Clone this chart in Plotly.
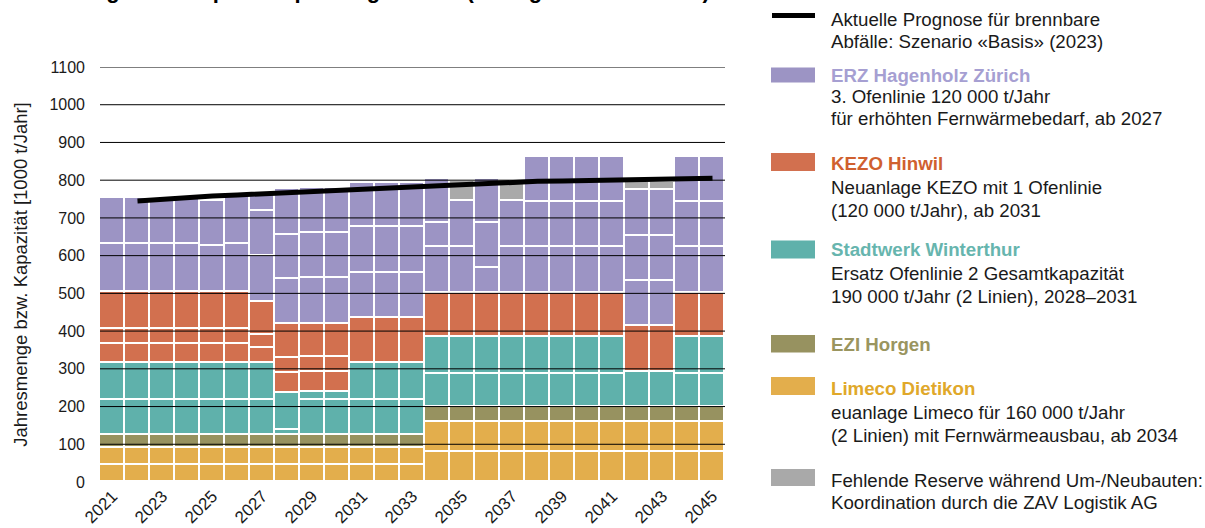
import plotly.graph_objects as go

YEARS = list(range(2021, 2046))

# Segmente je Anlage (1000 t/Jahr), von unten nach oben gestapelt
LIMECO_A = [45] * 13 + [80] * 12
LIMECO_B = [45] * 13 + [80] * 12
EZI = [35] * 13 + [38] * 12
WINTI_A = [92] * 7 + [12, 92, 92] + [92] * 3 + [87] * 8 + [94, 94] + [87, 87]
WINTI_B = [98] * 7 + [100, 22, 22] + [98] * 3 + [100] * 8 + [None, None] + [100, 100]
KEZO_A = [51] * 6 + [39, 51, 52, 52] + [119] * 3 + [115] * 8 + [122, 122] + [115, 115]
KEZO_B = [39] * 6 + [36, 40, 40, 40] + [None] * 3 + [None] * 12
KEZO_C = [99] * 6 + [88, 90, 88, 88] + [None] * 3 + [None] * 12
ERZ_A = [126, 126, 126, 126, 121, 128, 122, 119, 121, 121, 121, 121, 121,
         122, 122, 66, 122, 122, 122, 122, 122, 119, 119, 122, 122]
ERZ_B = [122, 122, 122, 122, 121, 124, 119, 119, 119, 119, 120, 120, 120,
         64, 122, 120, 122, 121, 121, 121, 121, 120, 120, 121, 121]
ERZ_C = [None] * 6 + [51, 120, 119, 119, 118, 118, 118,
                      116, None, 116, None, 119, 119, 119, 119, 122, 122, 119, 119]
RESERVE = [None] * 14 + [53, None, 53] + [None] * 4 + [20, 20, None, None]

PROGNOSE_YEARS = list(range(2022, 2046))
PROGNOSE = [745, 750, 754, 758, 761, 764, 768, 771, 774, 777, 780, 783,
            787, 790, 793, 795, 797, 798, 799, 800, 801, 802, 803, 805]

Y_TICKS = list(range(0, 1101, 100))
X_TICKS = list(range(2021, 2046, 2))

C = {
    'erz': '#9C94C4', 'kezo': '#D2704F', 'winti': '#5FB1AB',
    'ezi': '#979260', 'limeco': '#E3AE4C', 'reserve': '#A9A9A9',
}
T = {
    'erz': '#A69FD2', 'kezo': '#D0602F', 'winti': '#67B5AE',
    'ezi': '#9A955F', 'limeco': '#E0A82A',
}
FONT = 'Liberation Sans, Arial, sans-serif'

# Pixel -> Papier-Koordinaten (Plotfläche 100..725 x 67..482)
def px(x):
    return (x - 100) / 625

def py(y):
    return (482 - y) / 415


fig = go.Figure()

stack = [
    (LIMECO_A, 'limeco'), (LIMECO_B, 'limeco'), (EZI, 'ezi'),
    (WINTI_A, 'winti'), (WINTI_B, 'winti'),
    (KEZO_A, 'kezo'), (KEZO_B, 'kezo'), (KEZO_C, 'kezo'),
    (ERZ_A, 'erz'), (ERZ_B, 'erz'), (ERZ_C, 'erz'),
    (RESERVE, 'reserve'),
]
for vals, key in stack:
    fig.add_trace(go.Bar(
        x=YEARS, y=vals,
        marker=dict(color=C[key], line=dict(color='white', width=1.8)),
        showlegend=False, hoverinfo='skip',
    ))

fig.add_trace(go.Scatter(
    x=PROGNOSE_YEARS, y=PROGNOSE, mode='lines',
    line=dict(color='black', width=5),
    showlegend=False, hoverinfo='skip',
))

# Gitterlinien über den Balken
for t in Y_TICKS[1:]:
    fig.add_shape(type='line', xref='paper', x0=0, x1=1, yref='y', y0=t, y1=t,
                  line=dict(color='black', width=1), layer='above')

# ─── Legende rechts ──────────────────────────────────────────────────────────
fig.add_shape(type='line', xref='paper', yref='paper',
              x0=px(772), x1=px(815), y0=py(15.5), y1=py(15.5),
              line=dict(color='black', width=5))

swatches = [
    ('erz', 67.5, 82.5), ('kezo', 153, 171), ('winti', 240.5, 258.5),
    ('ezi', 335, 352.5), ('limeco', 377, 395), ('reserve', 469, 486),
]
for key, y0, y1 in swatches:
    fig.add_shape(type='rect', xref='paper', yref='paper',
                  x0=px(771), x1=px(815), y0=py(y0), y1=py(y1),
                  fillcolor=C[key], line=dict(width=0))

legend_lines = [
    ('Aktuelle Prognose für brennbare', 19.5, None),
    ('Abfälle: Szenario «Basis» (2023)', 41.7, None),
    ('<b>ERZ Hagenholz Zürich</b>', 75, 'erz'),
    ('3. Ofenlinie 120 000 t/Jahr', 96.7, None),
    ('für erhöhten Fernwärmebedarf, ab 2027', 118.3, None),
    ('<b>KEZO Hinwil</b>', 163.3, 'kezo'),
    ('Neuanlage KEZO mit 1 Ofenlinie', 187.3, None),
    ('(120 000 t/Jahr), ab 2031', 210.7, None),
    ('<b>Stadtwerk Winterthur</b>', 249.3, 'winti'),
    ('Ersatz Ofenlinie 2 Gesamtkapazität', 273.5, None),
    ('190 000 t/Jahr (2 Linien), 2028–2031', 296.7, None),
    ('<b>EZI Horgen</b>', 344, 'ezi'),
    ('<b>Limeco Dietikon</b>', 388.3, 'limeco'),
    ('euanlage Limeco für 160 000 t/Jahr', 412, None),
    ('(2 Linien) mit Fernwärmeausbau, ab 2034', 435, None),
    ('Fehlende Reserve während Um-/Neubauten:', 480.7, None),
    ('Koordination durch die ZAV Logistik AG', 502.7, None),
]
for text, y, key in legend_lines:
    fig.add_annotation(
        text=text, xref='paper', yref='paper', x=px(829), y=py(y),
        xanchor='left', yanchor='middle', showarrow=False,
        font=dict(family=FONT, size=18.7, color=T[key] if key else '#1a1a1a'),
    )

# abgeschnittener Titel oben (im Original nur Unterlängen sichtbar)
fig.add_annotation(
    text='<b>Abfallmenge und Kapazitätsplanung im ZAV (Verfügbare Ofenlinien)</b>',
    xref='paper', yref='paper', x=px(-2), y=py(5), xanchor='left', yanchor='bottom',
    showarrow=False, font=dict(family=FONT, size=22, color='black'),
)

fig.update_layout(
    width=1205, height=528,
    margin=dict(l=100, r=480, t=67, b=46, autoexpand=False),
    paper_bgcolor='white', plot_bgcolor='white',
    barmode='stack', bargap=0,
    font=dict(family=FONT, color='#1a1a1a'),
    xaxis=dict(
        range=[2020.5, 2045.5], tickvals=X_TICKS, tickangle=-45,
        showgrid=False, zeroline=False, showline=False, automargin=False,
        tickfont=dict(size=17, color='#1a1a1a'),
    ),
    yaxis=dict(
        range=[0, 1100], tickvals=Y_TICKS, showgrid=False, zeroline=False,
        showline=False, ticklabelstandoff=14, automargin=False,
        tickfont=dict(size=16, color='#1a1a1a'),
        title=dict(text='Jahresmenge bzw. Kapazität [1000 t/Jahr]',
                   font=dict(size=18.5, color='#1a1a1a'), standoff=16),
    ),
)

# Seitenrand des Browsers entfernen, damit die Grafik bündig sitzt
fig.write_html('out.html', config={'displayModeBar': False},
               post_script="document.body.style.margin='0';")
